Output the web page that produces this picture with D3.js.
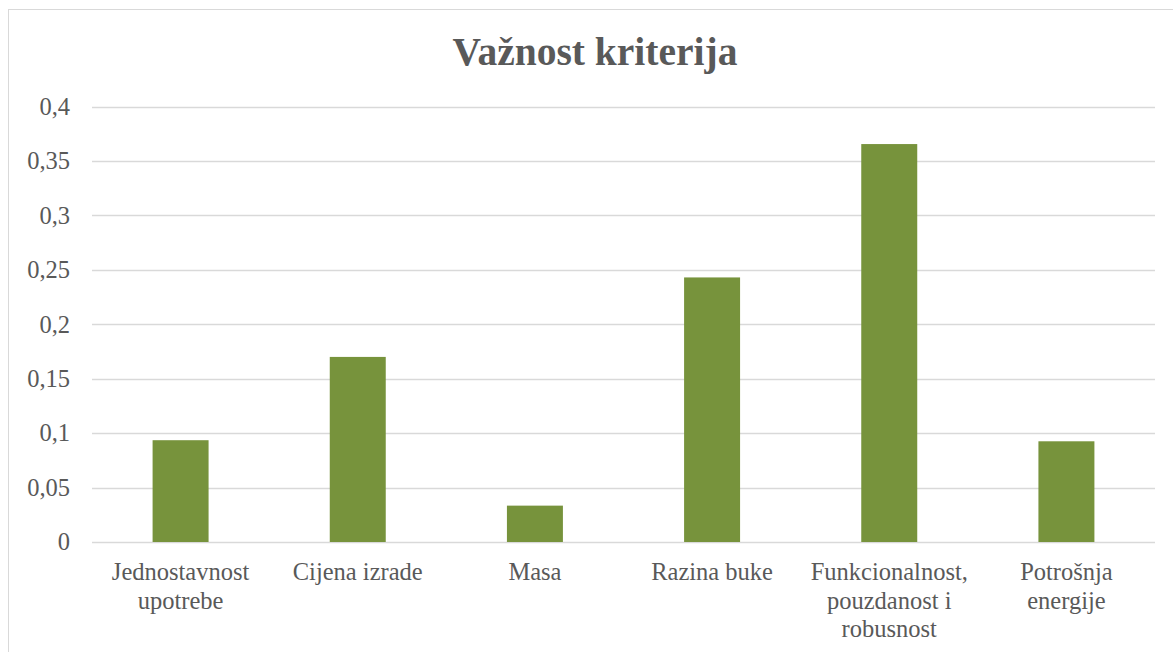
<!DOCTYPE html>
<html>
<head>
<meta charset="utf-8">
<script src="https://cdn.jsdelivr.net/npm/d3@7"></script>
<style>
  body { margin: 0; background: #fff; }
  svg { display: block; font-family: "Liberation Serif", serif; }
</style>
</head>
<body>
<svg id="viz"></svg>
<script>
// podaci
const categories = ["Jednostavnost upotrebe", "Cijena izrade", "Masa", "Razina buke",
                    "Funkcionalnost, pouzdanost i robusnost", "Potrošnja energije"];
const values = [0.0935, 0.170, 0.0334, 0.243, 0.3655, 0.0925];
const yTicks = [0, 0.05, 0.1, 0.15, 0.2, 0.25, 0.3, 0.35, 0.4];
const title = "Važnost kriterija";

width = 1173;
height = 652;

margin = {
    top: 106.5,
    right: 18,
    bottom: 110,
    left: 92
}

const textColor = "#595959";
const barColor = "#77933c";
const gridColor = "#d9d9d9";
const fontSize = 24.5;

svg = d3.select("#viz")
    .attr("width", width)
    .attr("height", height)
    .attr("viewBox", [0, 0, width, height]);

// okvir grafikona
svg.append("rect")
    .attr("x", 8.5).attr("y", 9.5)
    .attr("width", 1180).attr("height", 700)
    .attr("fill", "#fff")
    .attr("stroke", gridColor);

x = d3.scaleBand()
    .domain(categories)
    .range([margin.left, width - margin.right]);

y = d3.scaleLinear()
    .domain([0, 0.4])
    .range([height - margin.bottom, margin.top]);

// mreza
svg.append("g").attr("class", "grid")
    .selectAll("line")
    .data(yTicks)
    .join("line")
    .attr("x1", margin.left)
    .attr("x2", width - margin.right)
    .attr("y1", d => Math.round(y(d)) + 0.5)
    .attr("y2", d => Math.round(y(d)) + 0.5)
    .attr("stroke", gridColor)
    .attr("stroke-width", 1.5);

// y os
yAxis = g => g
    .attr("transform", `translate(${margin.left},0)`)
    .call(d3.axisLeft(y).tickValues(yTicks).tickSize(0).tickPadding(22)
        .tickFormat(d => String(+d.toFixed(2)).replace(".", ",")))
    .call(g => g.select(".domain").remove())
    .call(g => g.selectAll("text")
        .attr("fill", textColor)
        .attr("font-size", fontSize)
        .attr("font-family", "Liberation Serif, serif"));

svg.append("g").attr("class", "yaxis").call(yAxis);

// stupci
const barW = x.bandwidth() * 0.316;
svg.append("g").attr("class", "bars")
    .attr("fill", barColor)
    .selectAll("rect")
    .data(values)
    .join("rect")
    .attr("x", (d, i) => x(categories[i]) + (x.bandwidth() - barW) / 2)
    .attr("y", d => y(d))
    .attr("width", barW)
    .attr("height", d => y(0) - y(d));

// x oznake s prelamanjem
const labels = svg.append("g").attr("class", "xaxis")
    .selectAll("text")
    .data(categories)
    .join("text")
    .attr("text-anchor", "middle")
    .attr("fill", textColor)
    .attr("font-size", fontSize)
    .attr("x", d => x(d) + x.bandwidth() / 2)
    .attr("y", 580);

labels.each(function(d) {
    const t = d3.select(this);
    const cx = +t.attr("x");
    const words = d.split(" ");
    let line = [];
    let tspan = t.append("tspan").attr("x", cx).attr("dy", 0);
    words.forEach(w => {
        line.push(w);
        tspan.text(line.join(" "));
        if (tspan.node().getComputedTextLength() > 170 && line.length > 1) {
            line.pop();
            tspan.text(line.join(" "));
            line = [w];
            tspan = t.append("tspan").attr("x", cx).attr("dy", 28.5).text(w);
        }
    });
});

// naslov
svg.append("text")
    .attr("x", 595)
    .attr("y", 65)
    .attr("text-anchor", "middle")
    .attr("fill", textColor)
    .attr("font-size", 39.5)
    .attr("font-weight", "bold")
    .text(title);
</script>
</body>
</html>
